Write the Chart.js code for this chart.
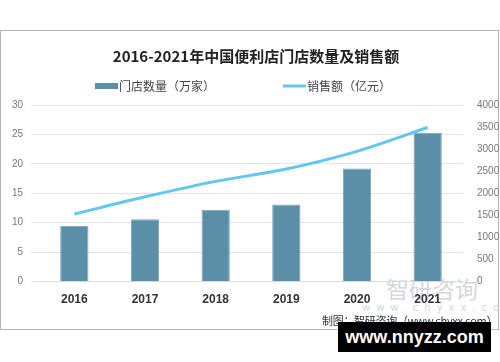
<!DOCTYPE html>
<html>
<head>
<meta charset="utf-8">
<script src="https://cdn.jsdelivr.net/npm/chart.js@4"></script>
<style>
  body { margin: 0; background: #fff; font-family: "Noto Sans CJK SC", sans-serif; }
  #wrap { position: relative; width: 500px; height: 362px; overflow: hidden; }
  #frame { position: absolute; left: 0; top: 30px; width: 497px; height: 298px; border: 1px solid #b4b4b4; }
  canvas { position: absolute; left: 0; top: 0; }
  .mark { position: absolute; color: #d3d7dc; white-space: nowrap; }
  #credit { position: absolute; left: 322px; top: 312px; font-size: 11px; color: #333; white-space: nowrap; letter-spacing: -0.3px; }
  #badge { position: absolute; left: 338px; top: 322px; width: 153px; height: 30px; background: #000; color: #fff;
           font: bold 18px "Liberation Sans", sans-serif; line-height: 30px; text-align: center; }
</style>
</head>
<body>
<div id="wrap">
  <div id="frame"></div>
  <div class="mark" style="left:386px; top:271px; font-size:23px;">智研咨询</div>
  <div class="mark" style="left:362px; top:302px; font-size:10px; letter-spacing:6px; font-family:'DejaVu Sans';">www.chyxx.com</div>
  <canvas id="c" width="500" height="362"></canvas>
  <div id="credit">制图：智研咨询（www.chyxx.com）</div>
  <div id="badge">www.nnyzz.com</div>
</div>
<script>
const years = ['2016', '2017', '2018', '2019', '2020', '2021'];
const storeCount = [9.5, 10.6, 12.2, 13.1, 19.2, 25.3];
const salesAmount = [1530, 1920, 2270, 2550, 2950, 3490];
const leftTicks = [0, 5, 10, 15, 20, 25, 30];
const rightTicks = [0, 500, 1000, 1500, 2000, 2500, 3000, 3500, 4000];

const tickFont = { family: 'Liberation Sans', size: 10 };

// legend drawn by hand so the two items can sit far apart on one row
const legendPlugin = {
  id: 'sideLegend',
  afterDraw(chart) {
    const ctx = chart.ctx;
    const bar = chart.data.datasets[1];
    const line = chart.data.datasets[0];
    ctx.save();
    ctx.font = '12px "Noto Sans CJK SC"';
    ctx.textBaseline = 'middle';
    ctx.fillStyle = bar.backgroundColor;
    ctx.fillRect(95, 83, 23, 6);
    ctx.fillStyle = '#444';
    ctx.fillText(bar.label, 119, 86);
    ctx.strokeStyle = line.borderColor;
    ctx.lineWidth = 3;
    ctx.beginPath();
    ctx.moveTo(283, 86);
    ctx.lineTo(306, 86);
    ctx.stroke();
    ctx.fillStyle = '#444';
    ctx.fillText(line.label, 307, 86);
    ctx.restore();
  }
};

new Chart(document.getElementById('c'), {
  data: {
    labels: years,
    datasets: [
      {
        type: 'line',
        label: '销售额（亿元）',
        data: salesAmount,
        yAxisID: 'y1',
        borderColor: '#62c6f2',
        backgroundColor: '#62c6f2',
        borderWidth: 3,
        pointRadius: 0,
        tension: 0.3,
        order: 0
      },
      {
        type: 'bar',
        label: '门店数量（万家）',
        data: storeCount,
        yAxisID: 'y',
        backgroundColor: '#5b8fa7',
        borderColor: '#7aa6ba',
        borderWidth: 1,
        categoryPercentage: 1,
        barPercentage: 0.4,
        order: 1
      }
    ]
  },
  options: {
    responsive: false,
    animation: false,
    layout: { padding: { top: 47, left: 12, right: 0, bottom: 52 } },
    plugins: {
      title: {
        display: true,
        text: '2016-2021年中国便利店门店数量及销售额',
        color: '#222',
        font: { family: 'Noto Sans CJK SC', size: 15, weight: 'bold' },
        padding: { top: 0, bottom: 40 }
      },
      legend: { display: false },
      tooltip: { enabled: false }
    },
    scales: {
      x: {
        grid: { display: false },
        border: { color: '#d9d9d9' },
        ticks: { color: '#333', font: { family: 'Liberation Sans', size: 12, weight: 'bold' } }
      },
      y: {
        position: 'left',
        min: 0, max: 30,
        afterBuildTicks: s => { s.ticks = leftTicks.map(v => ({ value: v })); },
        afterFit: s => { s.width = 27; },
        grid: { color: '#e3e3e3' },
        border: { display: false },
        ticks: { color: '#777', font: tickFont, padding: 8 }
      },
      y1: {
        position: 'right',
        min: 0, max: 4000,
        afterBuildTicks: s => { s.ticks = rightTicks.map(v => ({ value: v })); },
        afterFit: s => { s.width = 37; },
        grid: { display: false },
        border: { display: false },
        ticks: { color: '#777', font: tickFont, padding: 6, callback: v => String(v) }
      }
    }
  },
  plugins: [legendPlugin]
});
</script>
</body>
</html>
